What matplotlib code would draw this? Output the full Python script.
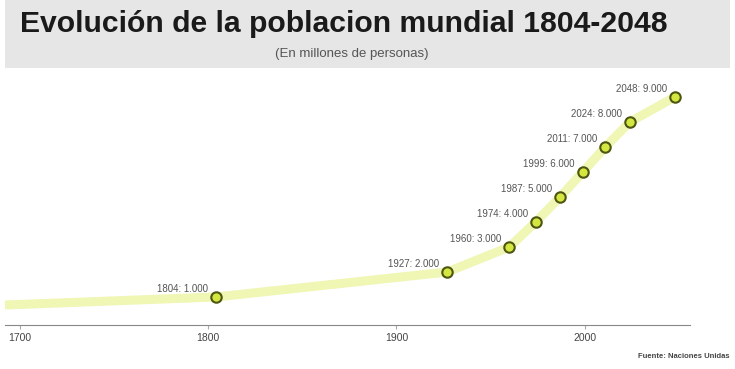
import matplotlib.pyplot as plt
from matplotlib.patches import Rectangle

# milestones (year, millions of people)
years = [1804, 1927, 1960, 1974, 1987, 1999, 2011, 2024, 2048]
pop = [1000, 2000, 3000, 4000, 5000, 6000, 7000, 8000, 9000]
labels = ["1804: 1.000", "1927: 2.000", "1960: 3.000", "1974: 4.000", "1987: 5.000",
          "1999: 6.000", "2011: 7.000", "2024: 8.000", "2048: 9.000"]

# trend line (starts before first milestone)
line_years = [1692] + years
line_pop = [680] + pop

xticks = [1700, 1800, 1900, 2000]

W, H = 735, 369
FONT = ["Liberation Sans", "DejaVu Sans"]
fig = plt.figure(figsize=(W / 100, H / 100), dpi=100)

# title band
fig.patches.append(Rectangle((5 / W, 1 - 68 / H), 725 / W, 68 / H, transform=fig.transFigure,
                             facecolor="#e6e6e6", edgecolor="none", zorder=0))
title = fig.text(20 / W, 1 - 24 / H, "Evolución de la poblacion mundial 1804-2048",
                 fontsize=21, fontweight="bold", family=FONT,
                 color="#1a1a1a", va="center", ha="left")
# shrink the title so it spans about the same width as in the reference
r = fig.canvas.get_renderer()
wpx = title.get_window_extent(r).width
title.set_fontsize(21 * 648 / wpx)

fig.text(352 / W, 1 - 54 / H, "(En millones de personas)", fontsize=9.5,
         family=FONT, color="#555555", va="center", ha="center")

ax = fig.add_axes([5 / W, 1 - 325 / H, 685 / W, 250 / H])
ax.plot(line_years, line_pop, color="#f0f6b4", lw=6.5, solid_capstyle="butt", zorder=1)
ax.plot(years, pop, "o", ms=7.5, mfc="#d4e640", mec="#4d5512", mew=1.5, zorder=3)
for x, y, t in zip(years, pop, labels):
    ax.annotate(t, (x, y), xytext=(-8, 3), textcoords="offset pixels",
                ha="right", va="bottom", fontsize=7, color="#555555", family=FONT)

ax.set_xlim(1692, 2056)
ax.set_ylim(-120, 9880)
ax.set_xticks(xticks)
ax.set_xticklabels([str(v) for v in xticks], fontsize=7.5, color="#444444", family=FONT)
ax.set_yticks([])
for s in ["top", "right", "left"]:
    ax.spines[s].set_visible(False)
ax.spines["bottom"].set_color("#888888")
ax.tick_params(axis="x", length=3, color="#aaaaaa", pad=3)

fig.text(730 / W, 1 - 356 / H, "Fuente: Naciones Unidas", fontsize=5.5, fontweight="bold",
         color="#444444", ha="right", va="center", family=FONT)

fig.savefig("out.png", dpi=100)
